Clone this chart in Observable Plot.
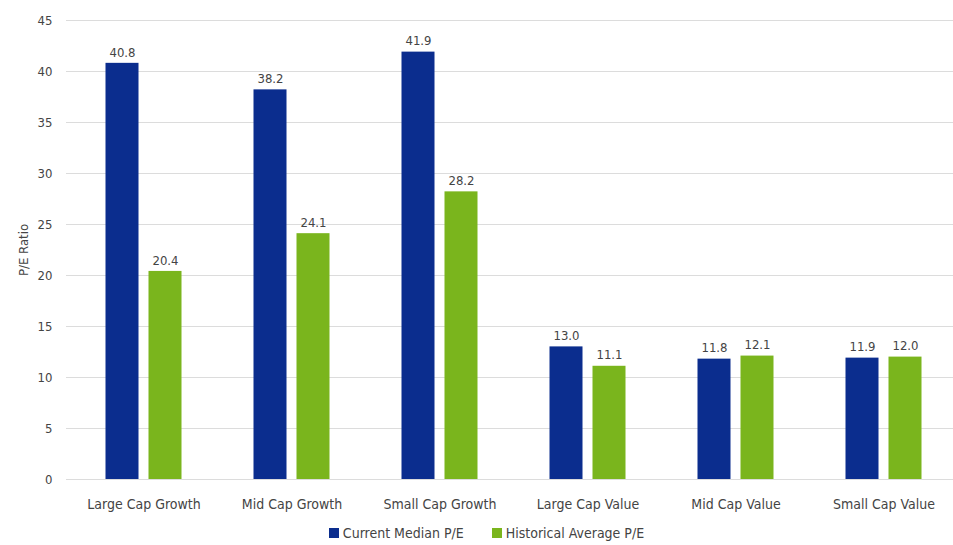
<!DOCTYPE html>
<html>
<head>
<meta charset="utf-8">
<script src="https://cdn.jsdelivr.net/npm/d3@7"></script>
<script src="https://cdn.jsdelivr.net/npm/@observablehq/plot@0.6"></script>
<style>
  body { margin: 0; background: #fff; font-family: "DejaVu Sans Condensed", sans-serif; }
  #chart svg { display: block; }
  #legend { display: flex; justify-content: center; align-items: center; gap: 28px; padding-top: 10px; padding-left: 20px; font-size: 14px; color: #444; }
  .item { display: flex; align-items: center; gap: 4px; }
  .sw { width: 10px; height: 10px; display: inline-block; }
</style>
</head>
<body>
<div id="chart"></div>
<div id="legend"></div>
<script>
const categories = ["Large Cap Growth", "Mid Cap Growth", "Small Cap Growth", "Large Cap Value", "Mid Cap Value", "Small Cap Value"];
const currentPE = [40.8, 38.2, 41.9, 13.0, 11.8, 11.9];
const historicalPE = [20.4, 24.1, 28.2, 11.1, 12.1, 12.0];
const seriesNames = ["Current Median P/E", "Historical Average P/E"];
const seriesColors = ["#0b2d8e", "#7ab51d"];
const yTicks = [0, 5, 10, 15, 20, 25, 30, 35, 40, 45];

const current = categories.map((c, i) => ({category: c, series: seriesNames[0], value: currentPE[i]}));
const historical = categories.map((c, i) => ({category: c, series: seriesNames[1], value: historicalPE[i]}));
const fmt = d3.format(".1f");
const textColor = "#444";
const font = "DejaVu Sans Condensed, sans-serif";

const chart = Plot.plot({
  width: 953,
  height: 515,
  marginTop: 20,
  marginBottom: 36,
  marginLeft: 66,
  marginRight: 0,
  style: {fontFamily: font, fontSize: "13px", color: textColor, background: "#fff"},
  x: {type: "band", domain: categories, range: [67, 959], paddingInner: 0.778, paddingOuter: 0.389},
  y: {domain: [0, 45]},
  color: {domain: seriesNames, range: seriesColors},
  marks: [
    Plot.gridY(yTicks, {stroke: "#dcdcdc", strokeOpacity: 1, strokeWidth: 1}),
    Plot.barY(current, {x: "category", y: "value", fill: "series", dx: -21.5}),
    Plot.barY(historical, {x: "category", y: "value", fill: "series", dx: 21.5}),
    Plot.text(current, {x: "category", y: "value", text: d => fmt(d.value), dx: -21.5, dy: -11, fill: textColor, fontSize: 13}),
    Plot.text(historical, {x: "category", y: "value", text: d => fmt(d.value), dx: 21.5, dy: -11, fill: textColor, fontSize: 13}),
    Plot.axisY({ticks: yTicks, tickSize: 0, tickPadding: 14, fontSize: 13, label: "P/E Ratio", labelAnchor: "center", labelOffset: 48, labelArrow: "none"}),
    Plot.axisX({tickSize: 0, tickPadding: 20, fontSize: 14, label: null})
  ]
});
document.getElementById("chart").appendChild(chart);

const legend = document.getElementById("legend");
seriesNames.forEach((name, i) => {
  const item = document.createElement("span");
  item.className = "item";
  const sw = document.createElement("span");
  sw.className = "sw";
  sw.style.background = seriesColors[i];
  const label = document.createElement("span");
  label.textContent = name;
  item.appendChild(sw);
  item.appendChild(label);
  legend.appendChild(item);
});
</script>
</body>
</html>
